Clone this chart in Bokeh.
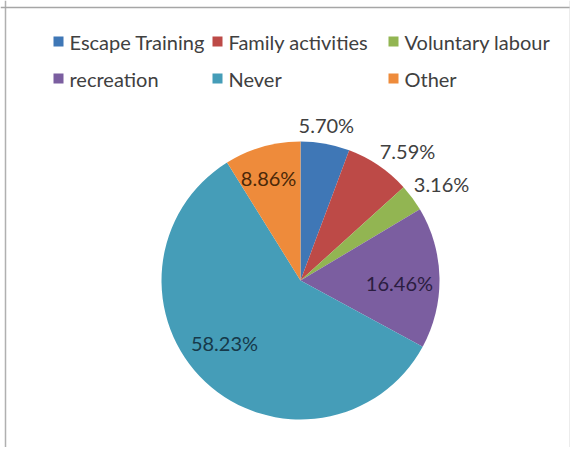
import numpy as np
from bokeh.plotting import figure
from bokeh.models import Range1d, Span, ColumnDataSource
from bokeh.core.properties import value
from bokeh.embed import file_html
from bokeh.resources import INLINE

# ---- data ----
categories = ["Escape Training", "Family activities", "Voluntary labour",
              "recreation", "Never", "Other"]
percentages = [5.70, 7.59, 3.16, 16.46, 58.23, 8.86]
pct_labels = ["5.70%", "7.59%", "3.16%", "16.46%", "58.23%", "8.86%"]

# ---- style ----
colors = ["#3F77B6", "#BD4A47", "#92B552", "#7B5EA0", "#459DB8", "#EE8B3B"]
label_colors = ["#404040", "#404040", "#404040", "#2B1D40", "#16394A", "#4A2808"]
label_radius = [1.131, 1.211, 1.231, 0.712, 0.706, 0.769]
label_angle_shift = [-0.8, 5.3, 2.0, 2.4, 7.5, -1.4]

W, H = 570, 447
CX, CY, R = 300, 167, 139

p = figure(width=W, height=H, output_backend="svg", toolbar_location=None,
           x_range=Range1d(0, W), y_range=Range1d(0, H),
           x_axis_type=None, y_axis_type=None, min_border=0,
           outline_line_color=None, background_fill_color="white",
           border_fill_color="white")
p.grid.visible = False

vals = np.array(percentages, dtype=float)
frac = vals / vals.sum()
cum_end = np.cumsum(frac)
cum_start = cum_end - frac
start = np.pi / 2 - cum_start * 2 * np.pi
end = np.pi / 2 - cum_end * 2 * np.pi

src = ColumnDataSource(dict(cat=categories, start=start, end=end, color=colors))
p.wedge(x=CX, y=CY, radius=R, start_angle="start", end_angle="end",
        direction="clock", fill_color="color", line_color=None, source=src)

# percentage labels
mid_deg = (cum_start + frac / 2) * 360 + np.array(label_angle_shift)
th = np.deg2rad(mid_deg)
lr = np.array(label_radius) * R
lx = CX + lr * np.sin(th)
ly = CY + lr * np.cos(th)
lsrc = ColumnDataSource(dict(x=lx, y=ly, t=pct_labels, c=label_colors))
p.text(x="x", y="y", text="t", text_color="c", source=lsrc,
       text_font=value("Lato"), text_font_size="20px",
       text_align="center", text_baseline="middle")

# legend (3 columns x 2 rows)
col_x = [58, 217, 393]
row_y = [406, 369]
leg_x = [col_x[i % 3] for i in range(len(categories))]
leg_y = [row_y[i // 3] for i in range(len(categories))]
gsrc = ColumnDataSource(dict(x=leg_x, y=leg_y, tx=[x + 11 for x in leg_x],
                             t=categories, c=colors))
p.scatter(x="x", y="y", marker="square", size=10, fill_color="c",
          line_color=None, source=gsrc)
p.text(x="tx", y="y", text="t", source=gsrc, text_color="#404040",
       text_font=value("Lato"), text_font_size="20px",
       text_align="left", text_baseline="middle")

# chart frame (left, top, right)
p.add_layout(Span(location=5, dimension="height", line_color="#b0b0b0", line_width=1.5))
p.add_layout(Span(location=440, dimension="width", line_color="#a6a6a6", line_width=1.5))
p.add_layout(Span(location=W, dimension="height", line_color="#d9d9d9", line_width=2))

open("out.html", "w").write(file_html(p, INLINE))
